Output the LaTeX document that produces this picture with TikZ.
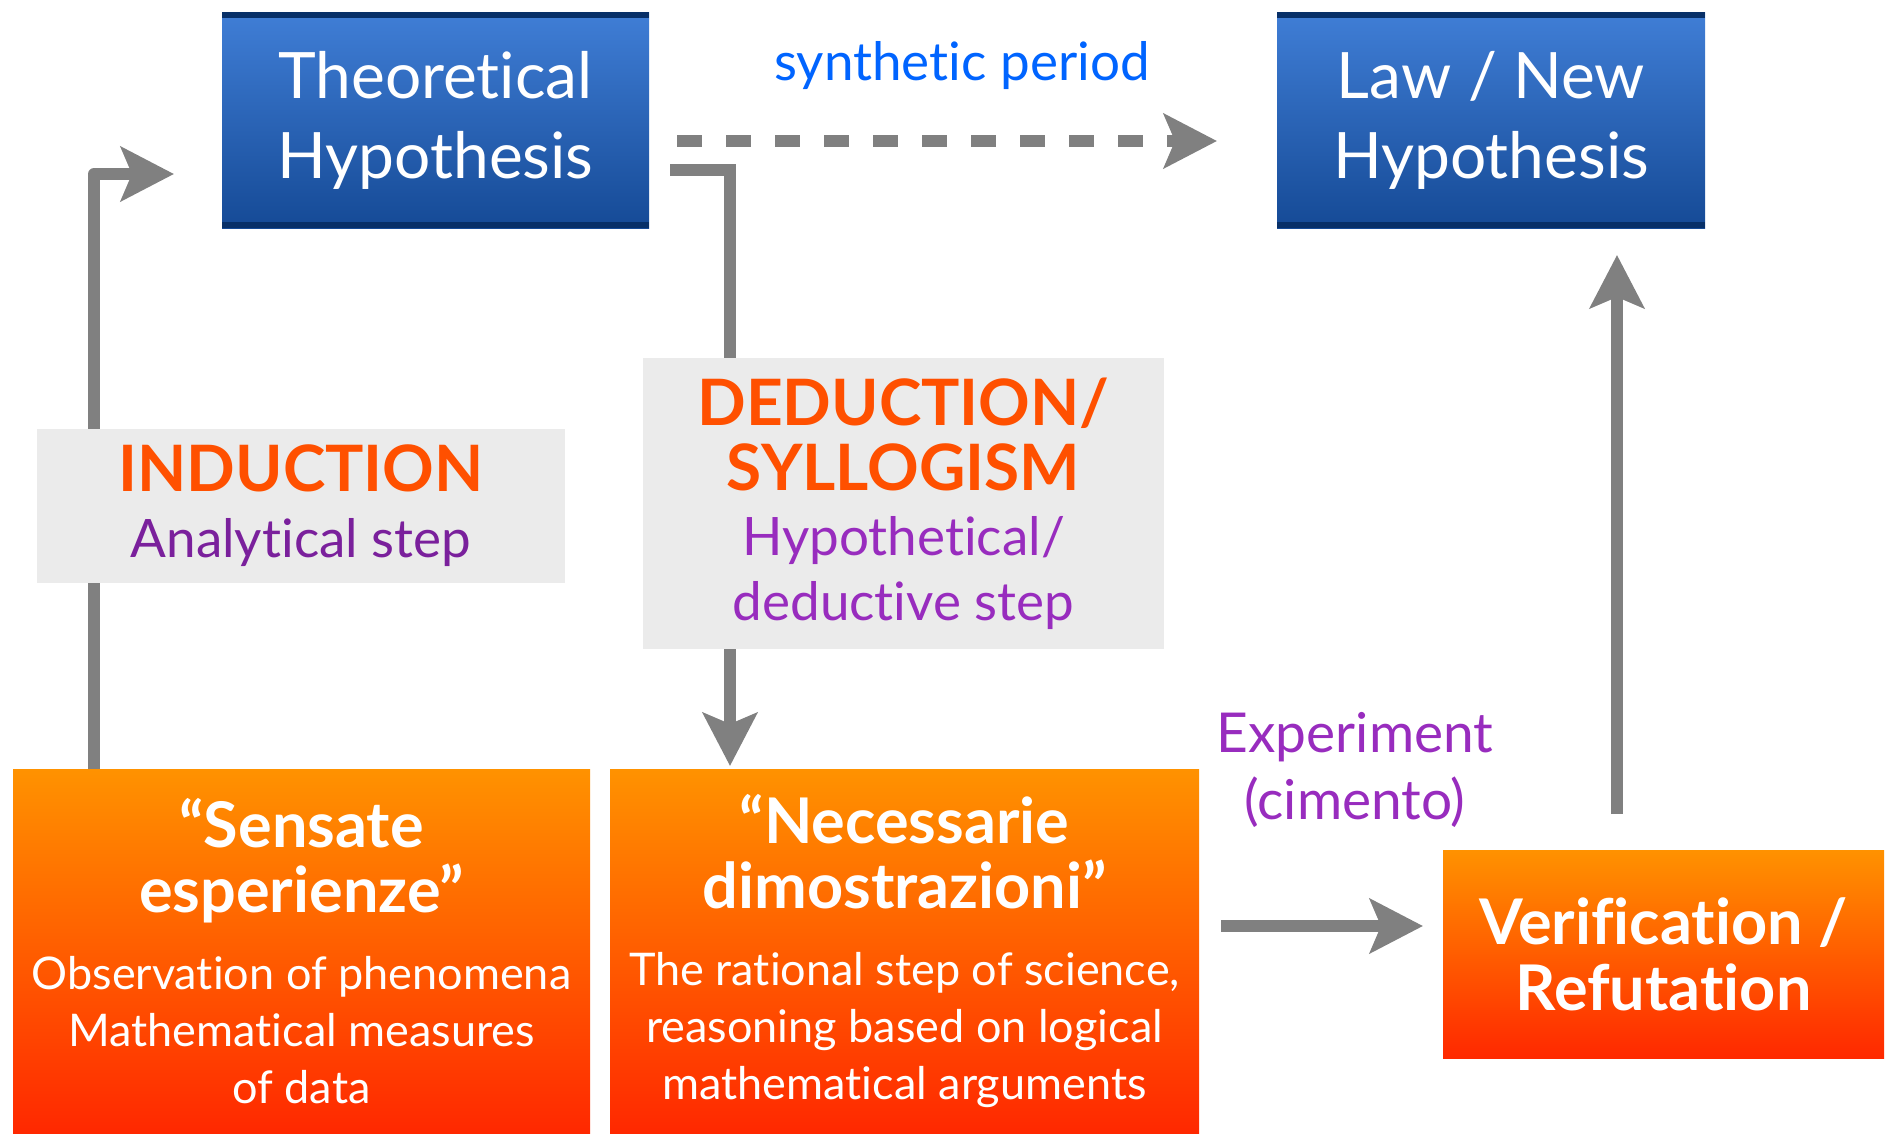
\documentclass[tikz,border=0pt]{standalone}
\usepackage{fontspec}
\setmainfont{Lato}[Ligatures=NoCommon]
\usetikzlibrary{arrows.meta}
\definecolor{bluetop}{RGB}{64,126,214}
\definecolor{bluebot}{RGB}{21,74,150}
\definecolor{bluerim}{RGB}{8,48,104}
\definecolor{hottop}{RGB}{255,146,0}
\definecolor{hotbot}{RGB}{255,40,0}
\definecolor{hotword}{RGB}{255,80,0}
\definecolor{paleg}{RGB}{235,235,235}
\definecolor{arrowg}{RGB}{128,128,128}
\definecolor{violdeep}{RGB}{122,32,156}
\definecolor{violet}{RGB}{152,44,190}
\definecolor{skyword}{RGB}{0,100,255}
\tikzset{
  bluebox/.style={top color=bluetop, bottom color=bluebot, inner sep=0pt,
              minimum width=427pt, minimum height=216pt, align=center, text=white,
              font=\fontsize{64}{80}\selectfont,
              path picture={
                \fill[bluerim] (path picture bounding box.north west) rectangle ([yshift=-6pt]path picture bounding box.north east);
                \fill[bluerim] (path picture bounding box.south west) rectangle ([yshift=6pt]path picture bounding box.south east);}},
  hotbox/.style={top color=hottop, bottom color=hotbot, inner sep=0pt,
              align=center, text=white, font=\fontsize{45}{57}\selectfont},
  greybox/.style={fill=paleg, inner sep=0pt, align=center},
  flow/.style={draw=arrowg, line width=12pt, -{Stealth[length=53pt,width=54pt,inset=11pt]}},
  flowdash/.style={flow, dash pattern=on 25pt off 24pt},
}
\newcommand\boxhead{\bfseries\fontsize{63}{68}\selectfont}
\newcommand\steplabel{\color{hotword}\bfseries\fontsize{64}{66}\selectfont}

\begin{document}
\begin{tikzpicture}[x=1pt, y=-1pt]
        \useasboundingbox (0,0) rectangle (1885,1133);
        \node[bluebox] (theo) at (435.5,120) {Theoretical\\Hypothesis};
        \node[bluebox, minimum width=428pt] (law) at (1491,120) {Law / New\\Hypothesis};
        \node[hotbox, minimum width=577pt, minimum height=364pt] (sens) at (301.5,951)
          {{\boxhead “Sensate}\\[8pt]{\boxhead esperienze”}\\[20pt]
           Observation of phenomena\\Mathematical measures\\of data};
        \node[hotbox, minimum width=589pt, minimum height=364pt] (nec) at (904.5,951)
          {{\boxhead “Necessarie}\\[8pt]{\boxhead dimostrazioni”}\\[20pt]
           The rational step of science,\\reasoning based on logical\\mathematical arguments};
        \node[hotbox, minimum width=441pt, minimum height=208pt,
              font=\bfseries\fontsize{63}{66}\selectfont] (ver) at (1663.5,954) {Verification /\\Refutation};
        \node[text=skyword, font=\fontsize{53}{58}\selectfont] (synth) at (962,66) {synthetic period};
        \node[text=violet, align=center, font=\fontsize{55}{67}\selectfont] (expt) at (1355,770) {Experiment\\(cimento)};
        % free ends of the connectors
        \coordinate (indin) at (174,174);
        \coordinate (dedout) at (670,170);
        \coordinate (dedin) at (730,766);
        \coordinate (synout) at (677,141);
        \coordinate (synin) at (1217,141);
        \coordinate (expout) at (1221,926);
        \coordinate (expin) at (1423,926);
        \coordinate (verout) at (1617,814);
        \coordinate (verin) at (1617,255);
        \draw[flow, line join=round] (sens.north west -| 94,0) |- (indin);
        \draw[flow] (dedout) -| (dedin);
        \draw[flowdash] (synout) -- (synin);
        \draw[flow] (expout) -- (expin);
        \draw[flow] (verout) -- (verin);
        \node[greybox, minimum width=528pt, minimum height=154pt,
              font=\fontsize{53}{66}\selectfont] (ind) at (301,506)
          {{\steplabel INDUCTION}\\{\color{violdeep}Analytical step}};
        \node[greybox, minimum width=521pt, minimum height=291pt,
              font=\fontsize{53}{65}\selectfont] (ded) at (903.5,503.5)
          {{\steplabel DEDUCTION/}\\{\steplabel SYLLOGISM}\\
           {\color{violet}Hypothetical/}\\{\color{violet}deductive step}};
      \end{tikzpicture}
\end{document}
